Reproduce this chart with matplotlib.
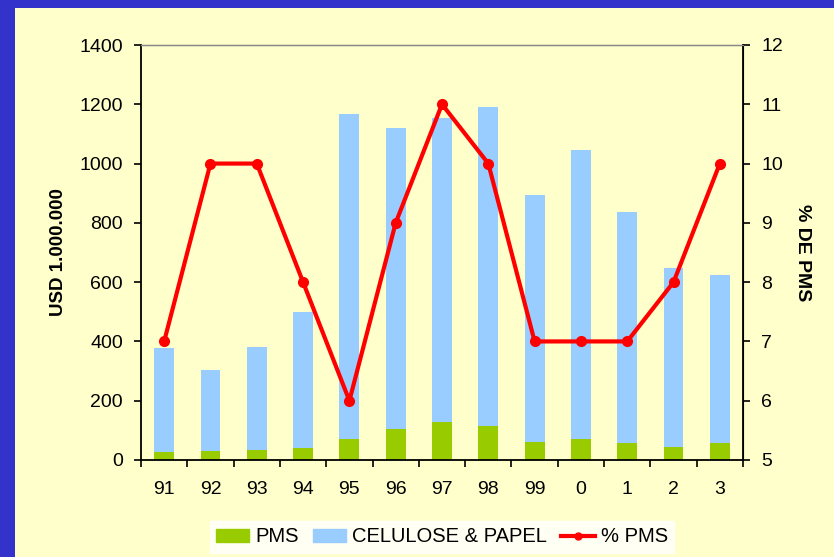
import matplotlib
matplotlib.use("Agg")
import matplotlib.pyplot as plt
from matplotlib.patches import Rectangle
from matplotlib.lines import Line2D
import numpy as np

plt.rcParams['font.family'] = ['Liberation Sans', 'DejaVu Sans']

anos = ['91', '92', '93', '94', '95', '96', '97', '98', '99', '0', '1', '2', '3']
pms = [26, 30, 34, 40, 70, 104, 127, 116, 62, 72, 58, 45, 58]
total = [378, 304, 381, 499, 1167, 1120, 1154, 1191, 894, 1046, 837, 648, 624]
celulose = [t - p for t, p in zip(total, pms)]
pct_pms = [7, 10, 10, 8, 6, 9, 11, 10, 7, 7, 7, 8, 10]

bg = '#ffffcc'
fig = plt.figure(figsize=(8.34, 5.57), dpi=100, facecolor=bg)
# moldura azul (esquerda e topo)
fig.patches.append(Rectangle((0, 0), 15 / 834, 1, transform=fig.transFigure,
                             facecolor='#3333cc', edgecolor='none', zorder=0))
fig.patches.append(Rectangle((0, 1 - 8 / 557), 1, 8 / 557, transform=fig.transFigure,
                             facecolor='#3333cc', edgecolor='none', zorder=0))

ax = fig.add_axes([141 / 834, 1 - 460 / 557, (743 - 141) / 834, (460 - 45) / 557])
ax.set_facecolor(bg)
x = np.arange(len(anos))
ax.bar(x, pms, width=0.43, color='#99cc00', label='PMS')
ax.bar(x, celulose, width=0.43, bottom=pms, color='#99ccff', label='CELULOSE & PAPEL')
ax.set_xlim(-0.5, len(anos) - 0.5)
ax.set_ylim(0, 1400)
ax.set_yticks(range(0, 1401, 200))
ax.set_xticks(x)
ax.set_xticklabels(anos)
ax.set_xticks(np.arange(-0.5, len(anos), 1), minor=True)
ax.tick_params(axis='x', which='major', length=0, pad=15, labelsize=14)
ax.tick_params(axis='x', which='minor', length=5, width=1.2, direction='out')
ax.tick_params(axis='y', length=5, width=1.2, direction='out', labelsize=14, pad=8)
ax.set_ylabel('USD 1.000.000', fontsize=13.5, fontweight='bold', labelpad=9)
for s in ['left', 'bottom']:
    ax.spines[s].set_linewidth(1.3)
ax.spines['top'].set_color('#888888')
ax.spines['top'].set_linewidth(1)

ax2 = ax.twinx()
ax2.plot(x, pct_pms, color='#ff0000', lw=3, marker='o', ms=7, label='% PMS')
ax2.set_ylim(5, 12)
ax2.set_yticks(range(5, 13))
ax2.tick_params(axis='y', length=5, width=1.2, direction='out', labelsize=14, pad=8)
ax2.set_ylabel('% DE PMS', fontsize=14, fontweight='bold', rotation=270, labelpad=20)
ax2.spines['right'].set_linewidth(1.3)
ax2.spines['top'].set_color('#888888')
ax2.spines['left'].set_visible(False)
ax2.spines['bottom'].set_visible(False)

handles = [Rectangle((0, 0), 1, 1, color='#99cc00'),
           Rectangle((0, 0), 1, 1, color='#99ccff'),
           Line2D([0], [0], color='#ff0000', lw=3, marker='o', ms=5)]
fig.legend(handles, ['PMS', 'CELULOSE & PAPEL', '% PMS'], loc='center',
           bbox_to_anchor=(442 / 834, 1 - 537 / 557), ncol=3, frameon=True,
           facecolor='white', edgecolor='white', fancybox=False, fontsize=14.5,
           handlelength=1.65, handleheight=0.6, columnspacing=0.7, handletextpad=0.3,
           borderpad=0.3, borderaxespad=0)

fig.savefig('out.png', dpi=100, facecolor=bg)
